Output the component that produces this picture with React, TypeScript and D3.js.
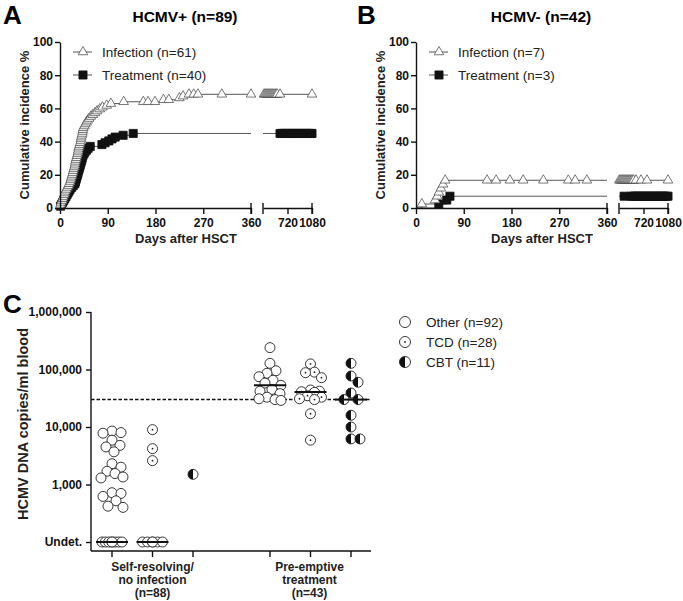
import * as d3 from "d3";
import { useEffect, useRef } from "react";

const FONT = "'Liberation Sans', Arial, Helvetica, sans-serif";

// ---- A: HCMV+ (n=89) ----
const infA_days = [0, 1, 2, 4, 5, 6, 8, 9, 10, 12, 14, 16, 17, 19, 20, 21, 22, 23, 24, 25, 26, 27, 28, 28.5, 29, 30, 31, 32, 33, 34, 34.5, 35, 36, 37, 38, 39, 39.5, 40, 41, 42, 42.5, 43, 44, 46, 48, 50, 52, 55, 58, 62, 66, 70, 75, 80, 88, 96, 120, 195, 225, 232, 243];
const infA_pct = [1.1, 2.2, 3.4, 4.5, 5.6, 6.7, 7.9, 9.0, 10.1, 11.2, 12.4, 13.5, 14.6, 15.7, 16.9, 18.0, 19.1, 20.2, 21.3, 22.5, 23.6, 24.7, 25.8, 27.0, 28.1, 29.2, 30.3, 31.5, 32.6, 33.7, 34.8, 36.0, 37.1, 38.2, 39.3, 40.4, 41.6, 42.7, 43.8, 44.9, 46.1, 47.2, 48.3, 49.4, 50.6, 51.7, 52.8, 53.9, 55.1, 56.2, 57.3, 58.4, 59.6, 60.7, 61.8, 62.9, 64.0, 65.2, 66.3, 67.4, 68.5];
const infA_censor = [157, 166, 179, 205, 252, 260, 305, 360, 375, 390, 405, 420, 435, 450, 465, 480, 495, 510, 525, 540, 555, 570, 610, 1080];

const trtA_days = [1, 3, 5, 7, 9, 11, 13, 15, 17, 19, 22, 25, 28, 29, 30, 31, 32, 33, 34, 35, 36, 37, 38, 39, 40, 41, 42, 43, 45, 47, 50, 53, 57, 79, 85, 92, 98, 104, 119, 138];
const trtA_pct = [1.1, 2.2, 3.4, 4.5, 5.6, 6.7, 7.9, 9.0, 10.1, 11.2, 12.4, 13.5, 14.6, 15.7, 16.9, 18.0, 19.1, 20.2, 21.3, 22.5, 23.6, 24.7, 25.8, 27.0, 28.1, 29.2, 30.3, 31.5, 32.6, 33.7, 34.8, 36.0, 37.1, 38.2, 39.3, 40.4, 41.6, 42.7, 43.8, 44.9];
const trtA_censor = [610, 640, 670, 700, 730, 760, 790, 820, 850, 880, 910, 940, 970, 1000, 1030, 1060, 1080];

// ---- B: HCMV- (n=42) ----
const infB_days = [11, 36, 40, 43, 47, 51, 55];
const infB_pct = [2.4, 4.8, 7.1, 9.5, 11.9, 14.3, 16.7];
const infB_censor = [134, 151, 177, 202, 240, 287, 300, 322, 365, 380, 395, 410, 425, 440, 455, 470, 485, 500, 515, 530, 545, 560, 575, 610, 683, 771, 1080];

const trtB_days = [43, 58, 64];
const trtB_pct = [2.4, 4.8, 7.1];
const trtB_censor = [435, 540, 570, 600, 630, 660, 690, 720, 750, 780, 810, 840, 870, 900, 930, 960, 990, 1020, 1050, 1080];

const kmTicks1 = [0, 90, 180, 270, 360];
const kmTicks2 = [720, 1080];
const pctTicks = [0, 20, 40, 60, 80, 100];

// ---- C: viral load by group ----
const otherSelf = [8500, 8000, 7800, 5900, 4800, 4500, 3700, 2300, 2000, 1700, 1550, 1350, 1300, 720, 700, 620, 520, 420, 400];
const tcdSelf = [9000, 4200, 2600];
const cbtSelf = [1500];
const otherPre = [240000, 128000, 95000, 86000, 75000, 65000, 58000, 53000, 45000, 42000, 38000, 33000, 31000, 30000, 29000];
const tcdPre = [125000, 90000, 88000, 72000, 44000, 42000, 41000, 40000, 35000, 33000, 31000, 30000, 17000, 5900];
const cbtPre = [128000, 77000, 60000, 39000, 30000, 30000, 16000, 10000, 6200, 6200];
const undetShown = [7, 5, 0, 0, 0, 0];
const medians = [100, 100, null, 53000, 40500, 30000];
const colTypes = ["other", "tcd", "cbt", "other", "tcd", "cbt"];
const colIndex = [0, 1, 2, 3.9, 4.9, 5.9];
const threshold = 30000;
const logTicks = [100, 1000, 10000, 100000, 1000000];
const logTickLabels = ["Undet.", "1,000", "10,000", "100,000", "1,000,000"];
const legendC = [
  { type: "other", label: "Other (n=92)" },
  { type: "tcd", label: "TCD (n=28)" },
  { type: "cbt", label: "CBT (n=11)" },
];

type Sel = d3.Selection<any, unknown, null, undefined>;

const valueAt = (days: number[], pct: number[], day: number) => {
  let v = 0;
  days.forEach((d, i) => {
    if (d <= day) v = pct[i];
  });
  return v;
};

const styleAxis = (a: Sel, size: number) => {
  a.attr("font-family", FONT).attr("font-size", size).attr("font-weight", "bold");
  a.selectAll("path,line").attr("stroke", "#111").attr("stroke-width", 1.4);
  a.selectAll("text").attr("fill", "#111");
};

function drawKM(svg: Sel, p: any) {
  const g = svg.append("g");
  const y = d3.scaleLinear().domain([0, 100]).range([208, 42]);
  const x1 = d3.scaleLinear().domain([0, 360]).range([p.x0, p.x0 + 191]);
  const x2 = d3.scaleLinear().domain([360, 1080]).range([p.x0 + 203, p.x0 + 252]);
  const xs = (d: number) => (d <= 360 ? x1(d) : x2(d));

  const tri = d3.symbol().type(d3.symbolTriangle).size(40)();
  const sq = d3.symbol().type(d3.symbolSquare).size(66)();

  const series = [
    { days: p.trt.days, pct: p.trt.pct, censor: p.trt.censor, kind: "sq" },
    { days: p.inf.days, pct: p.inf.pct, censor: p.inf.censor, kind: "tri" },
  ];

  series.forEach((s) => {
    const pts: [number, number][] = [[0, 0], ...s.days.map((d: number, i: number) => [d, s.pct[i]] as [number, number])];
    const seg1 = pts.filter((q) => q[0] <= 360);
    seg1.push([360, valueAt(s.days, s.pct, 360)]);
    const l1 = d3.line<[number, number]>().curve(d3.curveStepAfter).x((q) => x1(q[0])).y((q) => y(q[1]));
    g.append("path").attr("d", l1(seg1)).attr("fill", "none").attr("stroke", "#555").attr("stroke-width", 1);
    const seg2: [number, number][] = [[360, valueAt(s.days, s.pct, 360)], [1080, valueAt(s.days, s.pct, 1080)]];
    const l2 = d3.line<[number, number]>().x((q) => x2(q[0])).y((q) => y(q[1]));
    g.append("path").attr("d", l2(seg2)).attr("fill", "none").attr("stroke", "#555").attr("stroke-width", 1);
  });

  series.forEach((s) => {
    const marks = [
      ...s.days.map((d: number, i: number) => [d, s.pct[i]]),
      ...s.censor.map((d: number) => [d, valueAt(s.days, s.pct, d)]),
    ];
    g.selectAll(null)
      .data(marks)
      .enter()
      .append("path")
      .attr("d", s.kind === "tri" ? tri : sq)
      .attr("transform", (m: any) => `translate(${xs(m[0])},${y(m[1])})`)
      .attr("fill", s.kind === "tri" ? "#fff" : "#111")
      .attr("stroke", s.kind === "tri" ? "#555" : "#111")
      .attr("stroke-width", 0.8);
  });

  // axes
  const ya = g.append("g").attr("transform", `translate(${p.x0},0)`)
    .call(d3.axisLeft(y).tickValues(pctTicks).tickSize(5).tickSizeOuter(0).tickPadding(2));
  styleAxis(ya, 12);
  const xa1 = g.append("g").attr("transform", "translate(0,208)")
    .call(d3.axisBottom(x1).tickValues(kmTicks1).tickFormat(d3.format("d")).tickSize(6).tickSizeOuter(0).tickPadding(4));
  styleAxis(xa1, 12);
  const xa2 = g.append("g").attr("transform", "translate(0,208)")
    .call(d3.axisBottom(x2).tickValues(kmTicks2).tickFormat(d3.format("d")).tickSize(6).tickSizeOuter(0).tickPadding(4));
  styleAxis(xa2, 12);
  [x1(360), x2(360), x2(1080)].forEach((bx) => {
    g.append("line").attr("x1", bx).attr("x2", bx).attr("y1", 203).attr("y2", 214)
      .attr("stroke", "#111").attr("stroke-width", 1.4);
  });

  // legend
  [
    { kind: "tri", label: p.inf.label, ly: 52 },
    { kind: "sq", label: p.trt.label, ly: 75 },
  ].forEach((it) => {
    g.append("line").attr("x1", p.x0 + 13).attr("x2", p.x0 + 32).attr("y1", it.ly).attr("y2", it.ly)
      .attr("stroke", "#555").attr("stroke-width", 1);
    g.append("path").attr("d", it.kind === "tri" ? tri : sq)
      .attr("transform", `translate(${p.x0 + 23},${it.ly})`)
      .attr("fill", it.kind === "tri" ? "#fff" : "#111")
      .attr("stroke", it.kind === "tri" ? "#555" : "#111").attr("stroke-width", 0.8);
    g.append("text").attr("x", p.x0 + 42).attr("y", it.ly + 5).text(it.label)
      .attr("font-family", FONT).attr("font-size", 13.5).attr("fill", "#222");
  });

  // labels
  g.append("text").attr("x", p.letterX).attr("y", 24).text(p.letter)
    .attr("font-family", FONT).attr("font-size", 26).attr("font-weight", "bold");
  g.append("text").attr("x", p.x0 + 125).attr("y", 22).text(p.title).attr("text-anchor", "middle")
    .attr("font-family", FONT).attr("font-size", 15.5).attr("font-weight", "bold");
  g.append("text").attr("transform", `translate(${p.x0 - 31},125) rotate(-90)`).attr("text-anchor", "middle")
    .text("Cumulative incidence %").attr("font-family", FONT).attr("font-size", 13).attr("font-weight", "bold").attr("fill", "#222");
  g.append("text").attr("x", p.x0 + 126).attr("y", 243).attr("text-anchor", "middle").text("Days after HSCT")
    .attr("font-family", FONT).attr("font-size", 13).attr("font-weight", "bold").attr("fill", "#222");
}

function drawSym(g: Sel, type: string, cx: number, cy: number, r: number) {
  g.append("circle").attr("cx", cx).attr("cy", cy).attr("r", r).attr("fill", "#fff").attr("stroke", "#222").attr("stroke-width", 0.9);
  if (type === "tcd") g.append("circle").attr("cx", cx).attr("cy", cy).attr("r", 0.9).attr("fill", "#222");
  if (type === "cbt")
    g.append("path").attr("d", `M${cx},${cy - r} A${r},${r} 0 0 0 ${cx},${cy + r} Z`).attr("fill", "#111");
}

function swarm(ys: number[], minD: number, maxOff: number) {
  const placed: { x: number; y: number }[] = [];
  const order = ys.map((v, i) => i).sort((a, b) => ys[a] - ys[b]);
  const cands: number[] = [0];
  for (let k = 1; k <= maxOff; k++) cands.push(k, -k);
  const out: number[] = new Array(ys.length).fill(0);
  order.forEach((i) => {
    let best = 0, bestScore = -1;
    for (const c of cands) {
      let md = Infinity;
      placed.forEach((q) => {
        md = Math.min(md, Math.hypot(q.x - c, q.y - ys[i]));
      });
      if (md >= minD) { best = c; bestScore = Infinity; break; }
      if (md > bestScore) { bestScore = md; best = c; }
    }
    placed.push({ x: best, y: ys[i] });
    out[i] = best;
  });
  return out;
}

function drawC(svg: Sel) {
  const g = svg.append("g");
  const y = d3.scaleLog().domain([100, 1e6]).range([542, 312]);
  const x = d3.scaleLinear().domain([0, 5.9]).range([112, 351]);
  const groups = [otherSelf, tcdSelf, cbtSelf, otherPre, tcdPre, cbtPre];
  const R = 5;

  // axes
  g.append("line").attr("x1", 91).attr("x2", 91).attr("y1", 312).attr("y2", 551).attr("stroke", "#111").attr("stroke-width", 1.4);
  g.append("line").attr("x1", 91).attr("x2", 371).attr("y1", 551).attr("y2", 551).attr("stroke", "#111").attr("stroke-width", 1.4);
  const ya = g.append("g").attr("transform", "translate(91,0)")
    .call(d3.axisLeft(y).tickValues(logTicks).tickFormat((d: any, i: number) => logTickLabels[i]).tickSize(5).tickSizeOuter(0).tickPadding(4));
  ya.select(".domain").remove();
  styleAxis(ya, 12);
  colIndex.forEach((c) => {
    g.append("line").attr("x1", x(c)).attr("x2", x(c)).attr("y1", 551).attr("y2", 557).attr("stroke", "#111").attr("stroke-width", 1.4);
  });

  // threshold
  g.append("line").attr("x1", 91).attr("x2", 371).attr("y1", y(threshold)).attr("y2", y(threshold))
    .attr("stroke", "#111").attr("stroke-width", 1.6).attr("stroke-dasharray", "3.5,2");

  groups.forEach((vals, gi) => {
    const cx = x(colIndex[gi]);
    const n = undetShown[gi];
    for (let k = 0; k < n; k++) {
      const off = -10 + (20 * k) / (n - 1);
      drawSym(g, colTypes[gi], cx + off, y(100), R);
    }
    if (n > 0) drawSym(g, colTypes[gi], cx, y(100), R);
    const ys = vals.map((v) => y(v));
    const offs = swarm(ys, 9, 11);
    vals.forEach((v, i) => drawSym(g, colTypes[gi], cx + offs[i], ys[i], R));
    const m = medians[gi];
    if (m !== null) {
      g.append("line").attr("x1", cx - 16).attr("x2", cx + 16).attr("y1", y(m)).attr("y2", y(m))
        .attr("stroke", "#111").attr("stroke-width", 2);
    }
  });

  // group labels
  const lab = [
    { x: x(1), lines: ["Self-resolving/", "no infection", "(n=88)"] },
    { x: x(4.9) - 1, lines: ["Pre-emptive", "treatment", "(n=43)"] },
  ];
  lab.forEach((l) => {
    l.lines.forEach((t, i) => {
      g.append("text").attr("x", l.x).attr("y", 571 + i * 13).attr("text-anchor", "middle").text(t)
        .attr("font-family", FONT).attr("font-size", 12).attr("font-weight", "bold").attr("fill", "#222");
    });
  });

  g.append("text").attr("transform", "translate(28,424) rotate(-90)").attr("text-anchor", "middle")
    .text("HCMV DNA copies/ml blood").attr("font-family", FONT).attr("font-size", 14.5).attr("font-weight", "bold").attr("fill", "#222");
  g.append("text").attr("x", 3).attr("y", 313).text("C")
    .attr("font-family", FONT).attr("font-size", 26).attr("font-weight", "bold");

  legendC.forEach((it, i) => {
    const ly = 322 + i * 20;
    drawSym(g, it.type, 405, ly, 5.5);
    g.append("text").attr("x", 426).attr("y", ly + 5).text(it.label)
      .attr("font-family", FONT).attr("font-size", 13.5).attr("fill", "#222");
  });
}

const App = () => {
  const ref = useRef<SVGSVGElement | null>(null);

  useEffect(() => {
    if (!ref.current) return;
    const svg = d3.select(ref.current);
    svg.selectAll("*").remove();
    svg.append("rect").attr("width", 683).attr("height", 601).attr("fill", "#fff");
    drawKM(svg, {
      x0: 60, letter: "A", letterX: 3, title: "HCMV+ (n=89)",
      inf: { days: infA_days, pct: infA_pct, censor: infA_censor, label: "Infection (n=61)" },
      trt: { days: trtA_days, pct: trtA_pct, censor: trtA_censor, label: "Treatment (n=40)" },
    });
    drawKM(svg, {
      x0: 416, letter: "B", letterX: 357, title: "HCMV- (n=42)",
      inf: { days: infB_days, pct: infB_pct, censor: infB_censor, label: "Infection (n=7)" },
      trt: { days: trtB_days, pct: trtB_pct, censor: trtB_censor, label: "Treatment (n=3)" },
    });
    drawC(svg);
  }, []);

  return (
    <svg ref={ref} width={683} height={601} style={{ position: "absolute", left: 0, top: 0 }} />
  );
};

export default App;
